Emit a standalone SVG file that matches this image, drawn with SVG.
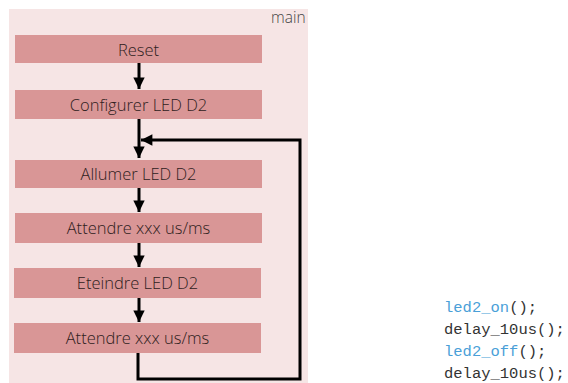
<svg xmlns="http://www.w3.org/2000/svg" width="568" height="383" viewBox="0 0 568 383">
  <style>
    .panel { fill: #f6e5e5; }
    .step rect { fill: #d99696; }
    .step text { font-family: "Open Sans", "Liberation Sans", sans-serif; font-size: 16.5px; font-weight: 300; fill: #2e2020; text-anchor: middle; }
    .title { font-family: "Open Sans", "Liberation Sans", sans-serif; font-size: 15.5px; font-weight: 300; fill: #444; }
    .link { fill: none; stroke: #000; stroke-width: 3; }
    .code { font-family: "Liberation Mono", "Courier New", monospace; font-size: 15.5px; }
    .fn { fill: #4a9fd8; }
    .plain { fill: #333; }
  </style>
  <defs>
    <marker id="head" viewBox="0 0 10 10" refX="10" refY="5" markerWidth="4" markerHeight="3.8" markerUnits="strokeWidth" orient="auto">
      <path d="M0,0 L10,5 L0,10 z" fill="#000"/>
    </marker>
  </defs>

  <rect class="panel" x="9" y="9" width="299" height="374"/>
  <text class="title" x="271" y="23">main</text>

  <g id="reset" class="step"><rect x="15" y="35" width="247" height="28"/><text x="138.5" y="55.5">Reset</text></g>
  <g id="configurer" class="step"><rect x="15" y="90" width="247" height="29"/><text x="138.5" y="110.5">Configurer LED D2</text></g>
  <g id="allumer" class="step"><rect x="15" y="160" width="247" height="28"/><text x="138.5" y="180">Allumer LED D2</text></g>
  <g id="attendre1" class="step"><rect x="15" y="213" width="247" height="30"/><text x="138.5" y="234">Attendre xxx us/ms</text></g>
  <g id="eteindre" class="step"><rect x="14" y="268" width="247" height="30"/><text x="137.5" y="289">Eteindre LED D2</text></g>
  <g id="attendre2" class="step"><rect x="14" y="323" width="247" height="30"/><text x="137.5" y="344">Attendre xxx us/ms</text></g>

  <g id="connectors">
    <line class="link" x1="139" y1="63" x2="139" y2="89" marker-end="url(#head)"/>
    <line class="link" x1="139" y1="119" x2="139" y2="158" marker-end="url(#head)"/>
    <line class="link" x1="139" y1="188" x2="139" y2="212" marker-end="url(#head)"/>
    <line class="link" x1="139" y1="243" x2="139" y2="267" marker-end="url(#head)"/>
    <line class="link" x1="139" y1="298" x2="139" y2="322" marker-end="url(#head)"/>
    <path class="link" d="M138,353 V379 H300 V140 H141" marker-end="url(#head)"/>
  </g>

  <g id="code" class="code">
    <text class="fn" x="444" y="312">led2_on<tspan class="plain">();</tspan></text>
    <text class="plain" x="444" y="334">delay_10us();</text>
    <text class="fn" x="444" y="356">led2_off<tspan class="plain">();</tspan></text>
    <text class="plain" x="444" y="378">delay_10us();</text>
  </g>
</svg>
